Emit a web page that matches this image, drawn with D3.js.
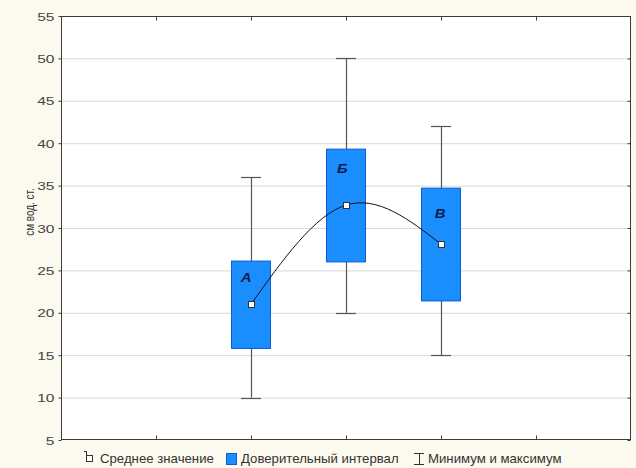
<!DOCTYPE html>
<html>
<head>
<meta charset="utf-8">
<script src="https://cdn.jsdelivr.net/npm/d3@7"></script>
<style>
  html, body { margin: 0; padding: 0; background: #fcfaee; }
  svg { display: block; font-family: Arial, "Liberation Sans", sans-serif; }
</style>
</head>
<body>
<div id="chart"></div>
<script>
// groups, placed on a numeric x axis (0..6)
const groups = ["А", "Б", "В"];
const groupX = [2, 3, 4];
const means = [21.0, 32.7, 28.1];
const ciLow = [15.8, 26.0, 21.4];
const ciHigh = [26.1, 39.3, 34.7];
const mins = [10, 20, 15];
const maxs = [36, 50, 42];
const labelY = [24.2, 37.1, 31.8];   // where the letter sits, in axis units
const labelDx = [-0.05, -0.04, -0.01];

const yTicks = [5, 10, 15, 20, 25, 30, 35, 40, 45, 50, 55];
const xTicks = [1, 2, 3, 4, 5];
const yTitle = "см вод. ст.";
const legendItems = ["Среднее значение", "Доверительный интервал", "Минимум и максимум"];

const width = 636, height = 468;
const margin = { top: 16, right: 5, bottom: 28, left: 61 };
const stretch = 1.35; // the picture's text is drawn wide

const svg = d3.select("#chart").append("svg")
    .attr("width", width)
    .attr("height", height);

const x = d3.scaleLinear().domain([0, 6]).range([margin.left, width - margin.right]);
const y = d3.scaleLinear().domain([5, 55]).range([height - margin.bottom, margin.top]);

// plot background
svg.append("rect")
    .attr("x", x(0)).attr("y", y(55))
    .attr("width", x(6) - x(0)).attr("height", y(5) - y(55))
    .attr("fill", "#fff");

// horizontal grid
svg.append("g")
    .selectAll("line")
    .data(yTicks.slice(1, -1))
    .enter()
    .append("line")
    .attr("x1", x(0)).attr("x2", x(6))
    .attr("y1", d => y(d) + 0.5).attr("y2", d => y(d) + 0.5)
    .attr("stroke", "#d8d8d8");

// whiskers
const data = groups.map((g, i) => ({
    g, x: groupX[i], mean: means[i], lo: ciLow[i], hi: ciHigh[i],
    min: mins[i], max: maxs[i], ly: labelY[i], ldx: labelDx[i]
}));

const whisk = svg.append("g").attr("stroke", "#555").attr("stroke-width", 1.2);
whisk.selectAll(".stem")
    .data(data).enter().append("line")
    .attr("x1", d => Math.round(x(d.x)) + 0.5).attr("x2", d => Math.round(x(d.x)) + 0.5)
    .attr("y1", d => y(d.min)).attr("y2", d => y(d.max));
whisk.selectAll(".capTop")
    .data(data).enter().append("line")
    .attr("x1", d => x(d.x) - 10).attr("x2", d => x(d.x) + 10)
    .attr("y1", d => Math.round(y(d.max)) + 0.5).attr("y2", d => Math.round(y(d.max)) + 0.5);
whisk.selectAll(".capBot")
    .data(data).enter().append("line")
    .attr("x1", d => x(d.x) - 10).attr("x2", d => x(d.x) + 10)
    .attr("y1", d => Math.round(y(d.min)) + 0.5).attr("y2", d => Math.round(y(d.min)) + 0.5);

// confidence boxes
const boxW = 0.41;
svg.append("g")
    .selectAll("rect")
    .data(data)
    .enter()
    .append("rect")
    .attr("x", d => x(d.x - boxW / 2))
    .attr("y", d => y(d.hi))
    .attr("width", x(boxW) - x(0))
    .attr("height", d => y(d.lo) - y(d.hi))
    .attr("fill", "#1a8eff")
    .attr("stroke", "#0a5ad8")
    .attr("stroke-width", 1);

// letters
svg.append("g")
    .selectAll("text")
    .data(data)
    .enter()
    .append("text")
    .attr("transform", d => `translate(${x(d.x + d.ldx)},${y(d.ly) + 5}) scale(1.15,1)`)
    .attr("text-anchor", "middle")
    .attr("font-size", 13)
    .attr("font-weight", "bold")
    .attr("font-style", "italic")
    .attr("fill", "#0c1d4d")
    .text(d => d.g);

// spline through means
svg.append("path")
    .datum(data)
    .attr("d", d3.line().x(d => x(d.x)).y(d => y(d.mean)).curve(d3.curveNatural))
    .attr("fill", "none")
    .attr("stroke", "#111")
    .attr("stroke-width", 1);

// mean markers
svg.append("g")
    .selectAll("rect")
    .data(data)
    .enter()
    .append("rect")
    .attr("x", d => Math.round(x(d.x)) - 3 + 0.5)
    .attr("y", d => Math.round(y(d.mean)) - 3 + 0.5)
    .attr("width", 6).attr("height", 6)
    .attr("fill", "#fff")
    .attr("stroke", "#333");

// frame
svg.append("rect")
    .attr("x", x(0) + 0.5).attr("y", y(55) + 0.5)
    .attr("width", x(6) - x(0) - 1).attr("height", y(5) - y(55) - 1)
    .attr("fill", "none")
    .attr("stroke", "#3c3c3c");

// axes: ticks inside on top/bottom/right, outside on left
const leftAxis = svg.append("g")
    .attr("transform", `translate(${x(0) + 0.5},0)`)
    .call(d3.axisLeft(y).tickValues(yTicks).tickSize(3).tickPadding(0));
leftAxis.select(".domain").remove();
leftAxis.selectAll("line").attr("stroke", "#3c3c3c");
leftAxis.selectAll("text")
    .attr("x", null)
    .attr("dy", null)
    .attr("font-size", 11.5)
    .attr("font-family", "Arial, 'Liberation Sans', sans-serif")
    .attr("fill", "#444")
    .attr("transform", `translate(-7,4) scale(${stretch},1)`);

const rightAxis = svg.append("g")
    .attr("transform", `translate(${x(6) - 0.5},0)`)
    .call(d3.axisLeft(y).tickValues(yTicks).tickSize(3).tickFormat(""));
rightAxis.select(".domain").remove();
rightAxis.selectAll("line").attr("stroke", "#3c3c3c");

const bottomAxis = svg.append("g")
    .attr("transform", `translate(0,${y(5) - 0.5})`)
    .call(d3.axisTop(x).tickValues(xTicks).tickSize(4).tickFormat(""));
bottomAxis.select(".domain").remove();
bottomAxis.selectAll("line").attr("stroke", "#3c3c3c");

const topAxis = svg.append("g")
    .attr("transform", `translate(0,${y(55) + 0.5})`)
    .call(d3.axisBottom(x).tickValues(xTicks).tickSize(4).tickFormat(""));
topAxis.select(".domain").remove();
topAxis.selectAll("line").attr("stroke", "#3c3c3c");

// y title
svg.append("text")
    .attr("transform", `translate(34,212) rotate(-90) scale(0.95,1.25)`)
    .attr("text-anchor", "middle")
    .attr("font-size", 10.5)
    .attr("fill", "#333")
    .text(yTitle);

// legend
const ly = 463;
const legend = svg.append("g").attr("font-size", 12).attr("fill", "#333");

// mean symbol
const m = legend.append("g").attr("stroke", "#333").attr("fill", "#fff");
m.append("rect").attr("x", 86.5).attr("y", 455.5).attr("width", 6).attr("height", 6);
m.append("line").attr("x1", 86.5).attr("x2", 86.5).attr("y1", 451).attr("y2", 455.5);
m.append("line").attr("x1", 84).attr("x2", 86.5).attr("y1", 451.5).attr("y2", 451.5);
legend.append("text")
    .attr("transform", `translate(100,${ly}) scale(1.1,1)`)
    .text(legendItems[0]);

legend.append("rect")
    .attr("x", 226.5).attr("y", 453.5).attr("width", 10).attr("height", 11)
    .attr("fill", "#1a8eff").attr("stroke", "#0a5ad8");
legend.append("text")
    .attr("transform", `translate(241,${ly}) scale(1.1,1)`)
    .text(legendItems[1]);

const ib = legend.append("g").attr("stroke", "#333");
ib.append("line").attr("x1", 414).attr("x2", 424).attr("y1", 453.5).attr("y2", 453.5);
ib.append("line").attr("x1", 414).attr("x2", 424).attr("y1", 464.5).attr("y2", 464.5);
ib.append("line").attr("x1", 419.5).attr("x2", 419.5).attr("y1", 453.5).attr("y2", 464.5);
legend.append("text")
    .attr("transform", `translate(428,${ly}) scale(1.1,1)`)
    .text(legendItems[2]);
</script>
</body>
</html>
